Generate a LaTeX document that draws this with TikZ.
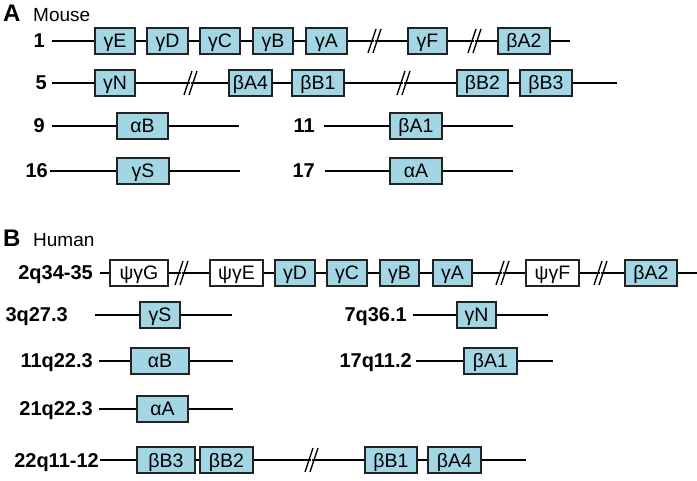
\documentclass[tikz,border=0pt]{standalone}
\usepackage{fontspec}
\setmainfont{Liberation Sans}
\definecolor{genefill}{RGB}{162,214,228}
\definecolor{geneline}{RGB}{35,35,35}
\tikzset{
  gene/.style={draw=geneline, fill=genefill, line width=1.1pt, minimum height=26pt,
    inner sep=0pt, text height=14pt, text depth=0pt, font=\fontsize{19.5}{19.5}\selectfont},
  pseudo/.style={gene, fill=white},
  chrom/.style={anchor=east, inner sep=0pt, text height=14pt, text depth=0pt,
    font=\bfseries\fontsize{20}{20}\selectfont},
  dna/.style={line width=1.7pt},
  brk/.pic={
    \fill[white] (-5,12) -- (3,-12) -- (4,-12) -- (-4,12) -- cycle;
    \draw[line width=1.4pt] (-7,12) -- (1,-12) (-2,12) -- (6,-12);
  }
}

\begin{document}
\begin{tikzpicture}[x=1pt,y=-1pt]
  \useasboundingbox (0,0) rectangle (697,481);

  % panel A
  \node[anchor=base west, inner sep=0pt, font=\bfseries\fontsize{24}{24}\selectfont] (pA) at (3,22) {A};
  \node[anchor=base west, inner sep=0pt, font=\fontsize{19}{19}\selectfont] (mouse) at (33,22) {Mouse};

  % chr 1
  \node[chrom] (c1) at (45,41) {1};
  \coordinate (c1s) at (52,41);
  \node[gene, minimum width=40pt] (mgE) at (115,41) {γE};
  \node[gene, minimum width=41pt] (mgD) at (167.5,41) {γD};
  \node[gene, minimum width=40pt] (mgC) at (220,41) {γC};
  \node[gene, minimum width=40pt] (mgB) at (273,41) {γB};
  \node[gene, minimum width=41pt] (mgA) at (326.5,41) {γA};
  \coordinate (c1b1) at (375,41);
  \node[gene, minimum width=39pt] (mgF) at (427.5,41) {γF};
  \coordinate (c1b2) at (475,41);
  \node[gene, minimum width=52pt] (mbA2) at (524,41) {βA2};
  \coordinate (c1e) at (570,41);
  \draw[dna] (c1s) -- (mgE) -- (mgD) -- (mgC) -- (mgB) -- (mgA) -- (c1b1) -- (mgF) -- (c1b2) -- (mbA2) -- (c1e);
  \pic at (c1b1) {brk};
  \pic at (c1b2) {brk};

  % chr 5
  \node[chrom] (c5) at (47,83) {5};
  \coordinate (c5s) at (52,83);
  \node[gene, minimum width=40pt] (mgN) at (115,83) {γN};
  \coordinate (c5b1) at (191,83);
  \node[gene, minimum width=43pt] (mbA4) at (250.5,83) {βA4};
  \node[gene, minimum width=52pt] (mbB1) at (318,83) {βB1};
  \coordinate (c5b2) at (404,83);
  \node[gene, minimum width=51pt] (mbB2) at (482.5,83) {βB2};
  \node[gene, minimum width=52pt] (mbB3) at (546,83) {βB3};
  \coordinate (c5e) at (617,83);
  \draw[dna] (c5s) -- (mgN) -- (c5b1) -- (mbA4) -- (mbB1) -- (c5b2) -- (mbB2) -- (mbB3) -- (c5e);
  \pic at (c5b1) {brk};
  \pic at (c5b2) {brk};

  % chr 9 and 11
  \node[chrom] (c9) at (45,126) {9};
  \coordinate (c9s) at (52,126);
  \node[gene, minimum width=51pt] (maB) at (142.5,126) {αB};
  \coordinate (c9e) at (239,126);
  \draw[dna] (c9s) -- (maB) -- (c9e);
  \node[chrom] (c11) at (315,126) {11};
  \coordinate (c11s) at (324,126);
  \node[gene, minimum width=52pt] (mbA1) at (416,126) {βA1};
  \coordinate (c11e) at (513,126);
  \draw[dna] (c11s) -- (mbA1) -- (c11e);

  % chr 16 and 17
  \node[chrom] (c16) at (48,171) {16};
  \coordinate (c16s) at (50,171);
  \node[gene, minimum width=52pt] (mgS) at (143,171) {γS};
  \coordinate (c16e) at (240,171);
  \draw[dna] (c16s) -- (mgS) -- (c16e);
  \node[chrom] (c17) at (315,171) {17};
  \coordinate (c17s) at (325,171);
  \node[gene, minimum width=52pt] (maA) at (416,171) {αA};
  \coordinate (c17e) at (513,171);
  \draw[dna] (c17s) -- (maA) -- (c17e);

  % panel B
  \node[anchor=base west, inner sep=0pt, font=\bfseries\fontsize{24}{24}\selectfont] (pB) at (3,247) {B};
  \node[anchor=base west, inner sep=0pt, font=\fontsize{19}{19}\selectfont] (human) at (33,247) {Human};

  % 2q34-35
  \node[chrom] (h2) at (93,273) {2q34-35};
  \coordinate (h2s) at (100,273);
  \node[pseudo, minimum width=58pt] (hpG) at (139,273) {ψγG};
  \coordinate (h2b1) at (182,273);
  \node[pseudo, minimum width=53pt] (hpE) at (236.5,273) {ψγE};
  \node[gene, minimum width=40pt] (hgD) at (295,273) {γD};
  \node[gene, minimum width=40pt] (hgC) at (347,273) {γC};
  \node[gene, minimum width=39pt] (hgB) at (399.5,273) {γB};
  \node[gene, minimum width=39pt] (hgA) at (452.5,273) {γA};
  \coordinate (h2b2) at (503,273);
  \node[pseudo, minimum width=53pt] (hpF) at (552.5,273) {ψγF};
  \coordinate (h2b3) at (601,273);
  \node[gene, minimum width=52pt] (hbA2) at (651,273) {βA2};
  \coordinate (h2e) at (697,273);
  \draw[dna] (h2s) -- (hpG) -- (h2b1) -- (hpE) -- (hgD) -- (hgC) -- (hgB) -- (hgA) -- (h2b2) -- (hpF) -- (h2b3) -- (hbA2) -- (h2e);
  \pic at (h2b1) {brk};
  \pic at (h2b2) {brk};
  \pic at (h2b3) {brk};

  % 3q27.3 and 7q36.1
  \node[chrom] (h3) at (68,315) {3q27.3};
  \coordinate (h3s) at (95,315);
  \node[gene, minimum width=40pt] (hgS) at (160,315) {γS};
  \coordinate (h3e) at (232,315);
  \draw[dna] (h3s) -- (hgS) -- (h3e);
  \node[chrom] (h7) at (407,315) {7q36.1};
  \coordinate (h7s) at (413,315);
  \node[gene, minimum width=39pt] (hgN) at (476.5,315) {γN};
  \coordinate (h7e) at (548,315);
  \draw[dna] (h7s) -- (hgN) -- (h7e);

  % 11q22.3 and 17q11.2
  \node[chrom] (h11) at (93,361) {11q22.3};
  \coordinate (h11s) at (99,361);
  \node[gene, minimum width=58pt] (haB) at (160,361) {αB};
  \coordinate (h11e) at (233,361);
  \draw[dna] (h11s) -- (haB) -- (h11e);
  \node[chrom] (h17) at (412,361) {17q11.2};
  \coordinate (h17s) at (416,361);
  \node[gene, minimum width=53pt] (hbA1) at (490.5,361) {βA1};
  \coordinate (h17e) at (553,361);
  \draw[dna] (h17s) -- (hbA1) -- (h17e);

  % 21q22.3
  \node[chrom] (h21) at (93,409) {21q22.3};
  \coordinate (h21s) at (99,409);
  \node[gene, minimum width=51pt] (haA) at (162.5,409) {αA};
  \coordinate (h21e) at (233,409);
  \draw[dna] (h21s) -- (haA) -- (h21e);

  % 22q11-12
  \node[chrom] (h22) at (99,460) {22q11-12};
  \coordinate (h22s) at (100,460);
  \node[gene, minimum width=58pt] (hbB3) at (166,460) {βB3};
  \node[gene, minimum width=53pt] (hbB2) at (226.5,460) {βB2};
  \coordinate (h22b1) at (312,460);
  \node[gene, minimum width=52pt] (hbB1) at (391,460) {βB1};
  \node[gene, minimum width=53pt] (hbA4) at (454.5,460) {βA4};
  \coordinate (h22e) at (526,460);
  \draw[dna] (h22s) -- (hbB3) -- (hbB2) -- (h22b1) -- (hbB1) -- (hbA4) -- (h22e);
  \pic at (h22b1) {brk};
\end{tikzpicture}
\end{document}
